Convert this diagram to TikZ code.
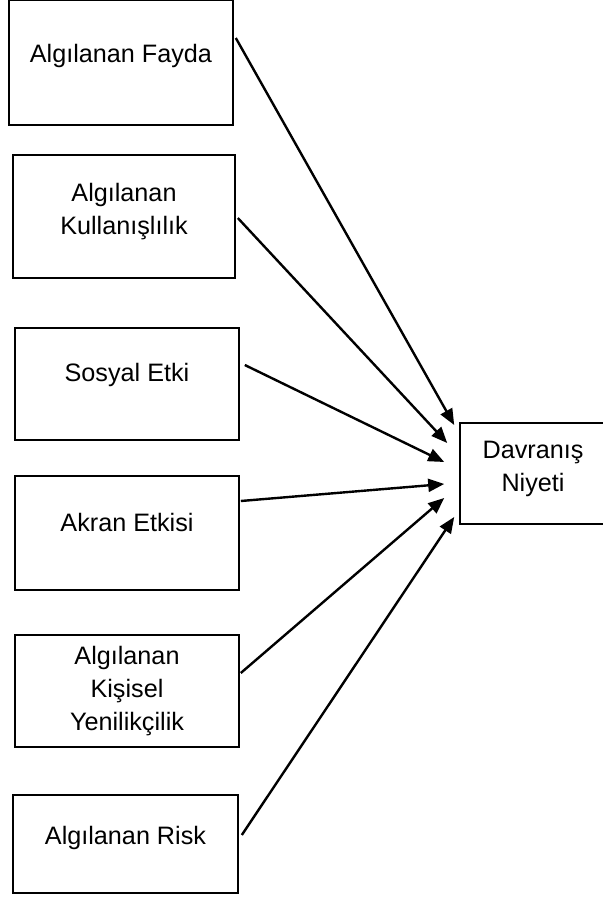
\documentclass[tikz,border=0pt]{standalone}
\usepackage{fontspec}
\setmainfont{Liberation Sans}
\usetikzlibrary{arrows.meta}
\begin{document}
\begin{tikzpicture}[x=0.5pt,y=-0.5pt,thick,>={Triangle[length=8pt,width=6.5pt]},
    factor node/.style={draw,align=center,inner sep=0pt,font=\fontsize{12.6}{16.3}\selectfont}]

    \useasboundingbox (0,0) rectangle (603,898);

    \node[factor node,minimum width=112pt,minimum height=62.5pt] at (121, 62.5) (fayda) {Algılanan Fayda\\[-6.8pt]};
    \node[factor node,minimum width=111pt,minimum height=61.5pt] at (124, 216.5) (kullanis) {Algılanan\\Kullanışlılık\\[-8.8pt]};
    \node[factor node,minimum width=112pt,minimum height=56pt] at (127, 384) (sosyal) {Sosyal Etki\\[-4.3pt]};
    \node[factor node,minimum width=112pt,minimum height=57pt] at (127, 533) (akran) {Akran Etkisi\\[-5.3pt]};
    \node[factor node,minimum width=112pt,minimum height=56pt] at (127, 691) (kisisel) {Algılanan\\Kişisel\\Yenilikçilik};
    \node[factor node,minimum width=112.5pt,minimum height=49pt] at (125.5, 844) (risk) {Algılanan Risk\\[-7.3pt]};
    \node[factor node,minimum width=73pt,minimum height=50.5pt] at (533, 473.5) (niyet) {Davranış\\Niyeti\\[-9.3pt]};

    % factors -> intention
    \draw[->,line width=1.2pt] ([shift={(2,-24.5)}]fayda.east) -- ([shift={(-5,-48.5)}]niyet.west);
    \draw[->,line width=1.2pt] ([shift={(2,1.5)}]kullanis.east) -- ([shift={(-12,-30.5)}]niyet.west);
    \draw[->,line width=1.2pt] ([shift={(5,-19)}]sosyal.east) -- ([shift={(-15,-11.5)}]niyet.west);
    \draw[->,line width=1.2pt] ([shift={(1,-32)}]akran.east) -- ([shift={(-15,10.5)}]niyet.west);
    \draw[->,line width=1.2pt] ([shift={(1,-18)}]kisisel.east) -- ([shift={(-15,24.5)}]niyet.west);
    \draw[->,line width=1.2pt] ([shift={(3,-9)}]risk.east) -- ([shift={(-5,43.5)}]niyet.west);
\end{tikzpicture}
\end{document}
